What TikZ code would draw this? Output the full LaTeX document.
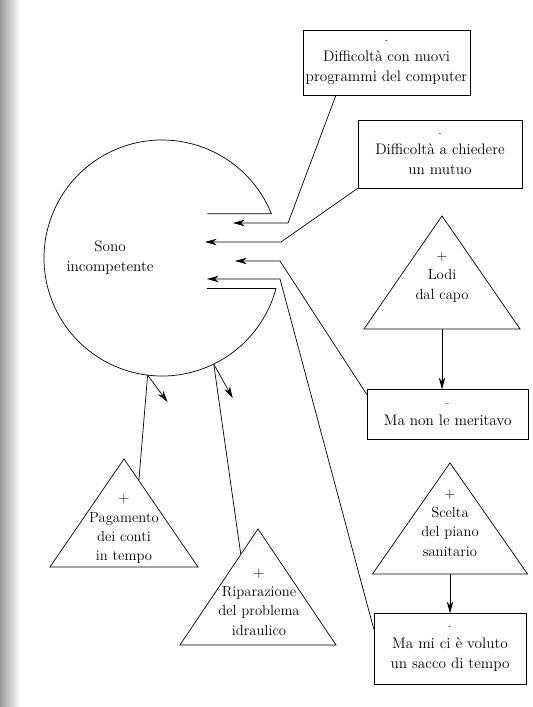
\documentclass[tikz,border=0pt]{standalone}
\usepackage{fontspec}
\usetikzlibrary{arrows.meta,positioning,calc,shapes.geometric}
\tikzset{main base/.style={draw,line width=0.6pt,text centered,align=center,font=\fontsize{13}{17}\selectfont}, }
\tikzset{main node/.style={rectangle,main base,inner sep=2pt}, }
\tikzset{main tri/.style={isosceles triangle,shape border rotate=90,isosceles triangle stretches,main base,inner sep=0pt,anchor=apex}, }
\tikzset{main verb/.style={align=center,inner sep=0pt,font=\fontsize{13}{17}\selectfont}, }
\tikzset{tri text/.style={main verb,font=\fontsize{12.5}{16.5}\selectfont}, }
\tikzset{circ/.style={circle,minimum size=7.08cm,inner sep=0pt,outer sep=0pt}, }
\tikzset{linea/.style={-{Stealth[length=10pt,width=5.5pt]},line width=0.6pt,draw}}
\tikzset{linea2/.style={line width=0.6pt,draw}}

\begin{document}
\begin{tikzpicture}[x=0.03cm,y=-0.03cm]
  \useasboundingbox (0,0) rectangle (532,707);
  \shade[left color=black!40,right color=white] (0,0) rectangle (20,707);
    \node[circ] (1) at (162,258) {};
    \node[main verb] (0) at (110,258) {Sono\\incompetente};
    \node[main node,minimum width=5.01cm,minimum height=1.95cm] (2) at (386.5,62.5) {{\scriptsize -}\\Difficoltà con nuovi\\programmi del computer};
    \node[main node,minimum width=4.92cm,minimum height=2.04cm] (3) at (440,154) {{\scriptsize -}\\Difficoltà a chiedere\\un mutuo};
    \node[main tri,minimum width=4.68cm,minimum height=3.39cm] (4) at (442,215) {};
    \node[tri text] (4t) at (442,277) {+\\Lodi\\dal capo};
    \node[main node,minimum width=4.83cm,minimum height=1.5cm] (5) [below = 1.8cm of 4.lower side, xshift=0.17cm] {{\scriptsize -}\\Ma non le meritavo};
    \node[main tri,minimum width=4.65cm,minimum height=3.33cm] (6) at (450,462) {};
    \node[tri text] (6t) at (450,523) {+\\Scelta\\del piano\\sanitario};
    \node[main node,minimum width=4.56cm,minimum height=2.13cm] (7) [below = 1.17cm of 6.lower side] {{\scriptsize -}\\Ma mi ci è voluto\\un sacco di tempo};
    \node[main tri,minimum width=4.44cm,minimum height=3.24cm] (8) at (124,458) {};
    \node[tri text] (8t) at (124,529) {+\\Pagamento\\dei conti\\in tempo};
    \node[main tri,minimum width=4.68cm,minimum height=3.48cm] (9) at (258,528) {};
    \node[tri text] (9t) at (259,602) {+\\Riparazione\\del problema\\idraulico};
    % circle with the notch
    \draw[linea2] (1.22) ++(-64,0) -- (1.22) arc[start angle=22, end angle=345, radius=3.54cm] -- ++(-69,0);
    \coordinate (k1) at (288,223); \coordinate (t1) at (233,223);
    \coordinate (k2) at (281,242); \coordinate (t2) at (205,242);
    \coordinate (k3) at (280,261); \coordinate (t3) at (235,261);
    \coordinate (k4) at (280,279); \coordinate (t4) at (207,279);
    \coordinate (e1) at ($(1.263)+(20,27)$);
    \coordinate (e2) at ($(1.296)+(19,34)$);
    \foreach \x/\y/\z in {2.213/k1/t1,3.south west/k2/t2,5.166/k3/t3,7.165/k4/t4}
      \path[linea] (\x) -- (\y) -- (\z);
    \foreach \x/\y in {4/5,6/7}
      \path[linea] (\x.lower side) -- (\x.lower side |- \y.north);
    \foreach \x/\y in {1.263/e1,1.296/e2}
      \path[linea] (\x) -- (\y);
    \path[linea2] ($(8.apex)!0.2!(8.right corner)$) -- (1.263);
    \path[linea2] ($(9.apex)!0.22!(9.left corner)$) -- (1.296);
\end{tikzpicture}
\end{document}
